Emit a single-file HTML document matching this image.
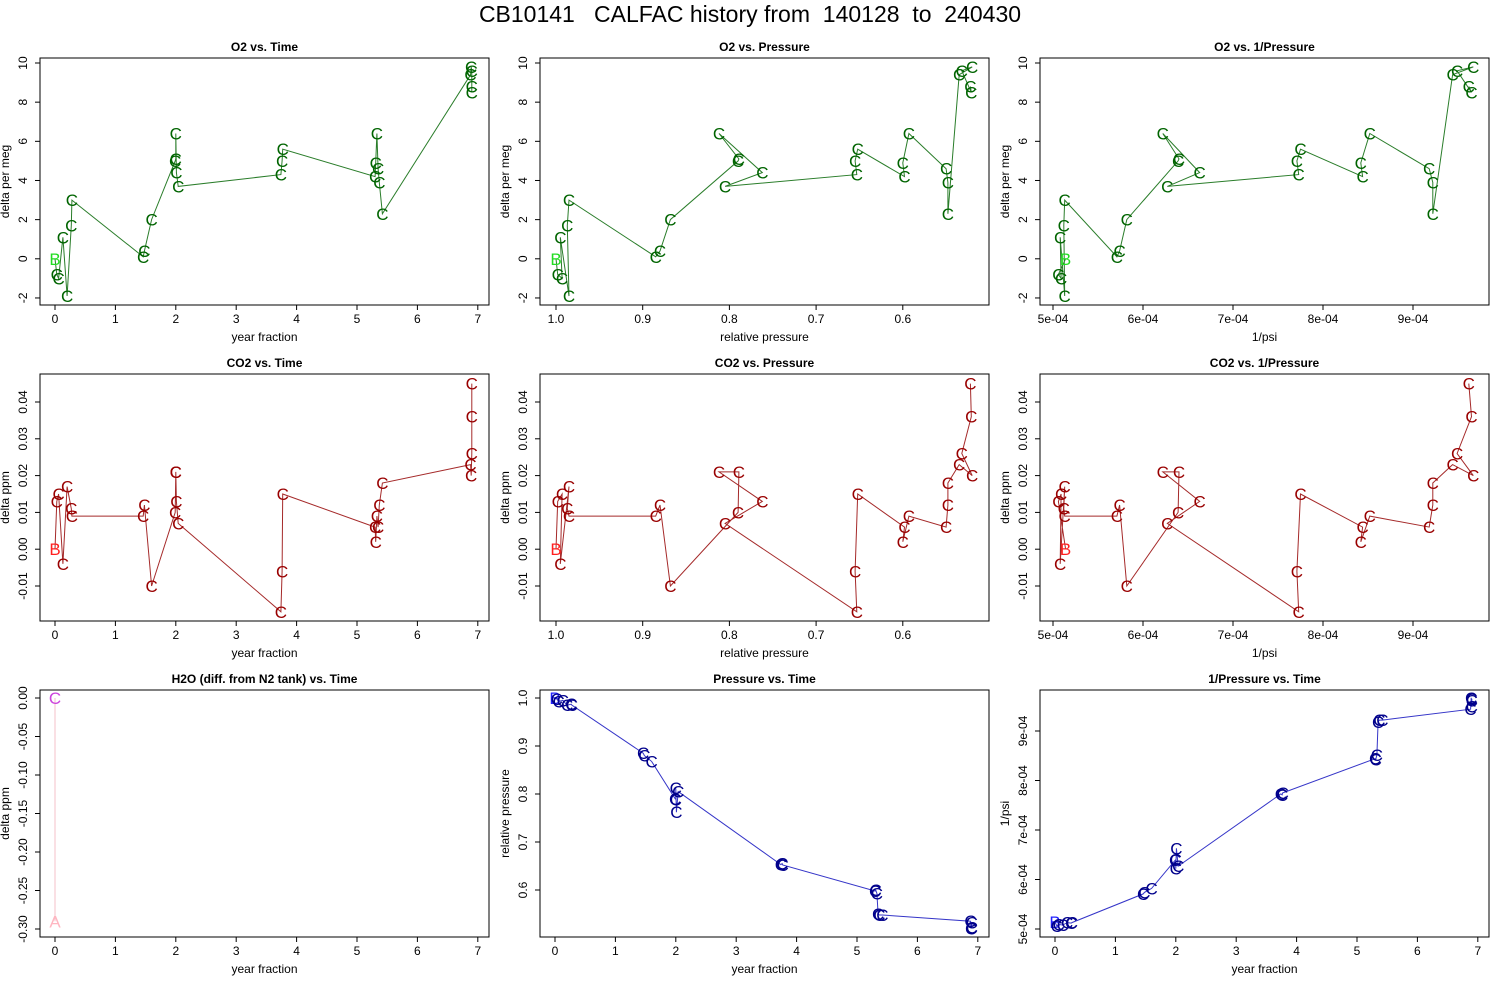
<!DOCTYPE html>
<html><head><meta charset="utf-8">
<style>
html,body{margin:0;padding:0;background:#fff;}
svg{display:block;font-family:"Liberation Sans",Arial,sans-serif;}
</style></head>
<body>
<svg id="chart" width="1500" height="1000" viewBox="0 0 1500 1000" xmlns="http://www.w3.org/2000/svg">
<rect x="0" y="0" width="1500" height="1000" fill="#fff"/>
<text x="750" y="22" text-anchor="middle" font-size="23" fill="#000" style="white-space:pre" xml:space="preserve">CB10141   CALFAC history from  140128  to  240430</text>
</svg>
<script>
// sample data (first sample is the "B" reference)
const labels = ["B","C","C","C","C","C","C","C","C","C","C","C","C","C","C","C","C","C","C","C","C","C","C","C","C","C","C","C","C"];
const years = [0.00,0.03,0.06,0.13,0.20,0.27,0.28,1.46,1.48,1.60,1.99,2.00,2.00,2.01,2.04,3.74,3.76,3.77,5.30,5.31,5.33,5.35,5.37,5.42,6.88,6.89,6.90,6.90,6.90];
const o2 = [0.0,-0.8,-1.0,1.1,-1.9,1.7,3.0,0.1,0.4,2.0,5.0,5.1,6.4,4.4,3.7,4.3,5.0,5.6,4.2,4.9,6.4,4.6,3.9,2.3,9.4,9.8,9.6,8.5,8.8];
const co2 = [0.000,0.013,0.015,-0.004,0.017,0.011,0.009,0.009,0.012,-0.010,0.010,0.021,0.021,0.013,0.007,-0.017,-0.006,0.015,0.006,0.002,0.009,0.006,0.012,0.018,0.023,0.020,0.026,0.036,0.045];
const pressure = [1.000,0.998,0.993,0.995,0.985,0.987,0.985,0.885,0.880,0.868,0.790,0.789,0.812,0.762,0.805,0.653,0.655,0.652,0.598,0.600,0.593,0.550,0.548,0.548,0.535,0.520,0.532,0.521,0.522];
const invPsi = [5.14e-4,5.06e-4,5.09e-4,5.08e-4,5.13e-4,5.12e-4,5.13e-4,5.71e-4,5.74e-4,5.82e-4,6.39e-4,6.40e-4,6.22e-4,6.63e-4,6.27e-4,7.73e-4,7.71e-4,7.75e-4,8.44e-4,8.42e-4,8.52e-4,9.18e-4,9.22e-4,9.22e-4,9.44e-4,9.67e-4,9.49e-4,9.65e-4,9.62e-4];
const h2oLabels = ["C","A"];
const h2oYears = [0.00,0.00];
const h2o = [0.000,-0.290];
// tick labels
const timeTicks = [0,1,2,3,4,5,6,7];
const presTicks = [1.0,0.9,0.8,0.7,0.6];
const psiTicks = [5e-4,6e-4,7e-4,8e-4,9e-4];
const o2Ticks = [-2,0,2,4,6,8,10];
const co2Ticks = [-0.01,0.00,0.01,0.02,0.03,0.04];
const h2oTicks = [0.00,-0.05,-0.10,-0.15,-0.20,-0.25,-0.30];
const presYTicks = [0.6,0.7,0.8,0.9,1.0];

const NS = "http://www.w3.org/2000/svg";
const svg = document.getElementById('chart');
const W = 449, H = 247;
function mk(tag, attrs, parent){
  const e = document.createElementNS(NS, tag);
  for (const k in attrs) e.setAttribute(k, attrs[k]);
  (parent||svg).appendChild(e);
  return e;
}
const fmtPsi = v => (v*1e4).toFixed(0) + "e-04";
const xs = {
  time: {f:(L,v)=>L+15+v*60.4, ticks:timeTicks, fmt:v=>String(v), title:"year fraction"},
  pres: {f:(L,v)=>L+16+(1-v)*867, ticks:presTicks, fmt:v=>v.toFixed(1), title:"relative pressure"},
  psi:  {f:(L,v)=>L+13+(v-5e-4)/1e-4*90, ticks:psiTicks, fmt:fmtPsi, title:"1/psi"}
};
const ys = {
  o2:  {f:(T,v)=>T+5+(10-v)*19.58, ticks:o2Ticks, fmt:v=>String(v), title:"delta per meg"},
  co2: {f:(T,v)=>T+28+(0.04-v)*3680, ticks:co2Ticks, fmt:v=>v.toFixed(2), title:"delta ppm"},
  h2o: {f:(T,v)=>T+8-v*770, ticks:h2oTicks, fmt:v=>v.toFixed(2), title:"delta ppm"},
  pres:{f:(T,v)=>T+8+(1-v)*480, ticks:presYTicks, fmt:v=>v.toFixed(1), title:"relative pressure"},
  psi: {f:(T,v)=>T+239-(v-5e-4)/1e-4*49.5, ticks:psiTicks, fmt:fmtPsi, title:"1/psi"}
};
function panel(name, title, L, T, xk, yk, xv, yv, lbls, colors){
  const g = mk('g', {});
  
  
  const X = xs[xk], Y = ys[yk];
  const t = mk('text', {x:L+W/2, y:T-7, 'text-anchor':'middle', 'font-size':12, 'font-weight':'bold'}, g);
  t.textContent = title;
  
  
  const b = mk('rect', {x:L, y:T, width:W, height:H, fill:'none', stroke:'#000', 'stroke-width':1}, g);
  
  
  const xa = mk('g', {}, g);
  
  
  const xt = X.ticks.map(v=>X.f(L,v));
  mk('line', {x1:Math.min(...xt), x2:Math.max(...xt), y1:T+H, y2:T+H, stroke:'#000'}, xa);
  X.ticks.forEach((v,i)=>{
    mk('line', {x1:xt[i], x2:xt[i], y1:T+H, y2:T+H+5, stroke:'#000'}, xa);
    const tl = mk('text', {x:xt[i], y:T+H+18, 'text-anchor':'middle', 'font-size':12}, xa);
    tl.textContent = X.fmt(v);
  });
  const xtt = mk('text', {x:L+W/2, y:T+H+36, 'text-anchor':'middle', 'font-size':12}, g);
  xtt.textContent = X.title;
  
  
  const ya = mk('g', {}, g);
  
  
  const yt = Y.ticks.map(v=>Y.f(T,v));
  mk('line', {x1:L, x2:L, y1:Math.min(...yt), y2:Math.max(...yt), stroke:'#000'}, ya);
  Y.ticks.forEach((v,i)=>{
    mk('line', {x1:L-5, x2:L, y1:yt[i], y2:yt[i], stroke:'#000'}, ya);
    const tl = mk('text', {x:L-13, y:yt[i], 'text-anchor':'middle', 'font-size':12, transform:`rotate(-90 ${L-13} ${yt[i]})`}, ya);
    tl.textContent = Y.fmt(v);
  });
  const ytt = mk('text', {x:L-31, y:T+H/2, 'text-anchor':'middle', 'font-size':12, transform:`rotate(-90 ${L-31} ${T+H/2})`}, g);
  ytt.textContent = Y.title;
  
  
  const pts = xv.map((v,i)=>[X.f(L,v), Y.f(T,yv[i])]);
  const pl = mk('polyline', {points:pts.map(p=>p[0].toFixed(1)+','+p[1].toFixed(1)).join(' '), fill:'none', stroke:colors.line, 'stroke-width':1}, g);
  
  
  pts.forEach((p,i)=>{
    const m = mk('text', {x:p[0], y:p[1]+6, 'text-anchor':'middle', 'font-size':17, fill:colors.pt(i, lbls[i])}, g);
    m.textContent = lbls[i];
    
    
  });
}
const green = {line:'#2a7d2a', pt:(i,l)=>l==='B'?'#22dd22':'#006400'};
const red = {line:'#a52a2a', pt:(i,l)=>l==='B'?'#ff2020':'#990000'};
const blue = {line:'#3535c8', pt:(i,l)=>l==='B'?'#2222ff':'#00008b'};
const pink = {line:'#f4c0c8', pt:(i,l)=>l==='A'?'#ffb6c1':'#cc44dd'};
panel('o2-time','O2 vs. Time',40,58,'time','o2',years,o2,labels,green);
panel('o2-pressure','O2 vs. Pressure',540,58,'pres','o2',pressure,o2,labels,green);
panel('o2-invpressure','O2 vs. 1/Pressure',1040,58,'psi','o2',invPsi,o2,labels,green);
panel('co2-time','CO2 vs. Time',40,374,'time','co2',years,co2,labels,red);
panel('co2-pressure','CO2 vs. Pressure',540,374,'pres','co2',pressure,co2,labels,red);
panel('co2-invpressure','CO2 vs. 1/Pressure',1040,374,'psi','co2',invPsi,co2,labels,red);
panel('h2o-time','H2O (diff. from N2 tank) vs. Time',40,690,'time','h2o',h2oYears,h2o,h2oLabels,pink);
panel('pressure-time','Pressure vs. Time',540,690,'time','pres',years,pressure,labels,blue);
panel('invpressure-time','1/Pressure vs. Time',1040,690,'time','psi',years,invPsi,labels,blue);
</script>
</body></html>
